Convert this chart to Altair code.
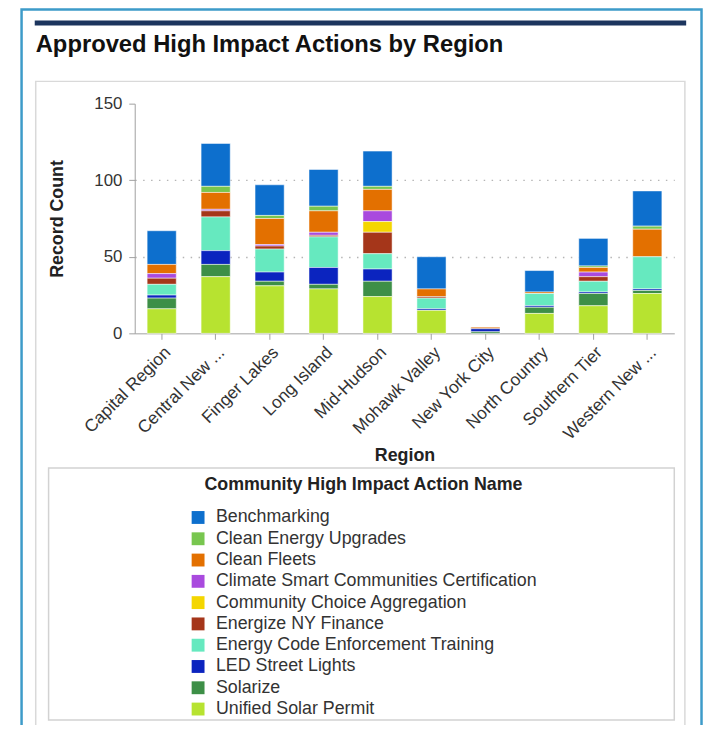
import json
import altair as alt
import pandas as pd

chart_title = "Approved High Impact Actions by Region"

regions = ["Capital Region", "Central New York", "Finger Lakes", "Long Island", "Mid-Hudson",
           "Mohawk Valley", "New York City", "North Country", "Southern Tier", "Western New York"]
tick_labels = ["Capital Region", "Central New ...", "Finger Lakes", "Long Island", "Mid-Hudson",
               "Mohawk Valley", "New York City", "North Country", "Southern Tier", "Western New ..."]

actions = ["Benchmarking", "Clean Energy Upgrades", "Clean Fleets",
           "Climate Smart Communities Certification", "Community Choice Aggregation",
           "Energize NY Finance", "Energy Code Enforcement Training", "LED Street Lights",
           "Solarize", "Unified Solar Permit"]
colors = ["#0d6fcd", "#78c64f", "#e37000", "#a94ade", "#f4d600",
          "#a5361a", "#66e9bf", "#0b24bf", "#3d8f47", "#b7e330"]

# values per region (same order as regions)
benchmarking = [22, 28, 20, 24, 23, 21, 0, 14, 18, 23]
clean_energy_upgrades = [0, 4, 2, 3, 2, 0, 0, 0, 1, 2]
clean_fleets = [6, 11, 17, 14, 14, 5, 1, 1, 3, 18]
climate_smart = [3, 1, 1, 2, 7, 0, 0, 0, 3, 0]
community_choice = [0, 0, 0, 0, 7, 0, 0, 0, 0, 0]
energize_ny = [4, 4, 2, 1, 14, 1, 0, 0, 3, 0]
energy_code = [7, 22, 15, 20, 10, 7, 0, 8, 7, 21]
led_street_lights = [2, 9, 6, 11, 8, 1, 2, 1, 1, 1]
solarize = [7, 8, 3, 3, 10, 0, 1, 4, 8, 2]
unified_solar = [16, 37, 31, 29, 24, 15, 0, 13, 18, 26]

series = [benchmarking, clean_energy_upgrades, clean_fleets, climate_smart, community_choice,
          energize_ny, energy_code, led_street_lights, solarize, unified_solar]

rows = []
for ai, (name, vals) in enumerate(zip(actions, series)):
    for reg, v in zip(regions, vals):
        if v > 0:
            rows.append({"Region": reg, "Action": name, "Count": v,
                         "stack_rank": len(actions) - 1 - ai})
df = pd.DataFrame(rows)

FONT = "Liberation Sans"
label_expr = f"{json.dumps(tick_labels)}[indexof({json.dumps(regions)}, datum.label)]"

one = pd.DataFrame({"k": [0]})

card = alt.Chart(one).mark_rect(fill="transparent", stroke="#3d9bc9", strokeWidth=2.5).encode(
    x=alt.value(-114.3), x2=alt.value(572.5), y=alt.value(-95), y2=alt.value(660))
navy = alt.Chart(one).mark_rect(color="#1c355e").encode(
    x=alt.value(-101), x2=alt.value(557), y=alt.value(-84), y2=alt.value(-79))
inner = alt.Chart(one).mark_rect(fill="transparent", stroke="#d9d9d9", strokeWidth=1.5).encode(
    x=alt.value(-100), x2=alt.value(555.7), y=alt.value(-22.5), y2=alt.value(640))
legend_box = alt.Chart(one).mark_rect(fill="transparent", stroke="#d2d2d2", strokeWidth=1.5).encode(
    x=alt.value(-87), x2=alt.value(545), y=alt.value(368), y2=alt.value(622.5))
title_text = alt.Chart(one).mark_text(align="left", baseline="middle", fontSize=24,
                                      fontWeight="bold", color="#111111", font=FONT).encode(
    x=alt.value(-100), y=alt.value(-59), text=alt.value(chart_title))

bars = alt.Chart(df).mark_bar(stroke="white", strokeWidth=1, strokeOpacity=0.5).encode(
    x=alt.X("Region:N", sort=regions,
            scale=alt.Scale(domain=regions, paddingInner=0.46, paddingOuter=0.23),
            axis=alt.Axis(title="Region", labelAngle=315, labelExpr=label_expr,
                          labelFontSize=17.5, labelColor="#333333", labelPadding=4,
                          labelLimit=300,
                          domainColor="#a0a0a0", tickColor="#a0a0a0", tickSize=6,
                          titleFontSize=18, titleFontWeight="bold", titleColor="#222222",
                          titleY=123, titleBaseline="middle", grid=False)),
    y=alt.Y("Count:Q", stack="zero",
            scale=alt.Scale(domain=[0, 150], nice=False),
            axis=alt.Axis(title="Record Count", values=[0, 50, 100, 150],
                          labelFontSize=17, labelColor="#333333", labelPadding=7,
                          domainColor="#a0a0a0", tickColor="#a0a0a0", tickSize=6,
                          grid=True, gridDash=[1.5, 6.5], gridColor="#b5b5b5", gridWidth=1.5,
                          gridOpacity={"condition": {"test": "datum.value >= 150 || datum.value <= 0", "value": 0}, "value": 1},
                          titleFontSize=18, titleFontWeight="bold", titleColor="#222222",
                          titleX=-78, titleY=116, titleAngle=270, titleAlign="center",
                          titleBaseline="middle")),
    color=alt.Color("Action:N", scale=alt.Scale(domain=actions, range=colors),
                    legend=alt.Legend(title="Community High Impact Action Name",
                                      orient="none", legendX=55, legendY=376,
                                      direction="vertical", padding=0,
                                      titleFontSize=18, titleFontWeight="bold", titleColor="#222222",
                                      titleAnchor="middle", titleAlign="center", titlePadding=15,
                                      titleLimit=600, labelLimit=600,
                                      labelFontSize=18, labelColor="#333333", labelOffset=9,
                                      symbolType="square", symbolSize=169, symbolStrokeWidth=0,
                                      symbolOpacity=1, rowPadding=3.5)),
    order=alt.Order("stack_rank:Q", sort="ascending"),
)

chart = alt.layer(card, navy, inner, legend_box, title_text, bars).properties(
    width=545, height=232,
    padding={"left": 128, "top": 93, "right": 29, "bottom": 392},
    autosize=alt.AutoSizeParams(type="none"),
).configure(font=FONT).configure_view(strokeWidth=0)

chart.save("out.html", embed_options={"renderer": "svg", "actions": False})
